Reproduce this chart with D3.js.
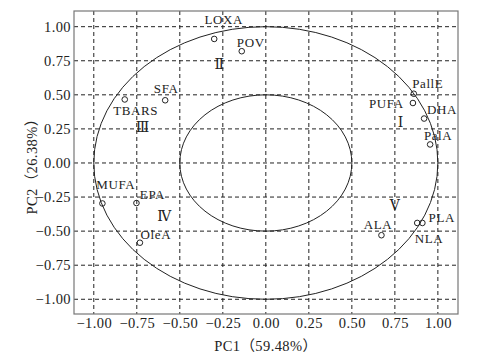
<!DOCTYPE html>
<html><head><meta charset="utf-8">
<script src="https://cdn.jsdelivr.net/npm/d3@7"></script>
<style>
body{margin:0;background:#fff;}
svg text{font-family:"Liberation Serif","Times New Roman",serif;fill:#222;}
</style></head>
<body><svg id="c" width="485" height="357"></svg>
<script>
const names = ["LOXA","POV","SFA","TBARS","PallE","PUFA","DHA","PalA","MUFA","EPA","OleA","ALA","PLA","NLA"];
const pc1 = [-0.30,-0.14,-0.585,-0.82,0.86,0.855,0.92,0.955,-0.95,-0.752,-0.732,0.672,0.91,0.88];
const pc2 = [0.91,0.82,0.46,0.466,0.508,0.44,0.326,0.136,-0.297,-0.294,-0.585,-0.53,-0.44,-0.44];
const groupNames = ["Ⅰ","Ⅱ","Ⅲ","Ⅳ","Ⅴ"];
const groupX = [0.783,-0.27,-0.717,-0.59,0.75];
const groupY = [0.299,0.729,0.262,-0.391,-0.306];
const tickVals = [-1.00,-0.75,-0.50,-0.25,0.00,0.25,0.50,0.75,1.00];
const radii = [1.0,0.5];
const xTitle = ["PC1","（","59.48%","）"];
const yTitle = ["PC2","（","26.38%","）"];

// label offsets (pixels) relative to points
const labelOffset = {
  LOXA:[9.5,-15], POV:[9,-4], SFA:[1,-7.5], TBARS:[11,15.5], PallE:[14,-6],
  PUFA:[-26.6,5], DHA:[18,-5], PalA:[8,-4], MUFA:[13.4,-14], EPA:[16,-4],
  OleA:[16,-4], ALA:[-3.4,-6], PLA:[19.4,-1], NLA:[11.7,20]
};

const svg = d3.select("#c");
const L=74,R=458,T=11,B=314;
const x = d3.scaleLinear().domain([-1.115,1.117]).range([L,R]);
const y = d3.scaleLinear().domain([-1.108,1.115]).range([B,T]);
const fmt = v => (v<0?"\u2212":"") + Math.abs(v).toFixed(2);

// grid
const g = svg.append("g");
g.selectAll("line.vx").data(tickVals).join("line")
  .attr("x1",d=>x(d)).attr("x2",d=>x(d)).attr("y1",T).attr("y2",B)
  .attr("stroke","#222").attr("stroke-width",1).attr("stroke-dasharray","4,3");
g.selectAll("line.hy").data(tickVals).join("line")
  .attr("y1",d=>y(d)).attr("y2",d=>y(d)).attr("x1",L).attr("x2",R)
  .attr("stroke","#222").attr("stroke-width",1).attr("stroke-dasharray","4,3");

// circles
svg.selectAll("ellipse.r").data(radii).join("ellipse")
  .attr("cx",x(0)).attr("cy",y(0))
  .attr("rx",d=>x(d)-x(0)).attr("ry",d=>y(0)-y(d))
  .attr("fill","none").attr("stroke","#222").attr("stroke-width",1);

// frame
svg.append("rect").attr("x",L).attr("y",T).attr("width",R-L).attr("height",B-T)
  .attr("fill","none").attr("stroke","#777").attr("stroke-width",1.2);

// axes
const xAxis = d3.axisBottom(x).tickValues(tickVals).tickFormat(fmt).tickSize(0).tickPadding(4);
const xa = svg.append("g").attr("transform",`translate(0,${B})`).call(xAxis);
xa.select(".domain").remove();
xa.selectAll("text").attr("font-size",14.5).attr("letter-spacing",0.4).style("font-family","Liberation Serif").attr("fill","#222");
const yAxis = d3.axisLeft(y).tickValues(tickVals).tickFormat(fmt).tickSize(0).tickPadding(3);
const ya = svg.append("g").attr("transform",`translate(${L},0)`).call(yAxis);
ya.select(".domain").remove();
ya.selectAll("text").attr("font-size",14.5).attr("letter-spacing",0.4).style("font-family","Liberation Serif").attr("fill","#222");

function title(sel, parts){
  sel.selectAll("tspan").data(parts).join("tspan")
    .style("font-family",(d,i)=> (i%2===1) ? '"Noto Sans CJK SC",serif' : '"Liberation Serif",serif')
    .text(d=>d);
}
// titles
svg.append("text").attr("x",x(0)).attr("y",351).attr("text-anchor","middle")
  .attr("font-size",14.5).attr("letter-spacing",0.4).call(title,xTitle);
svg.append("text").attr("transform",`translate(37,${y(0)}) rotate(-90)`)
  .attr("text-anchor","middle").attr("font-size",14.5).attr("letter-spacing",0.4).call(title,yTitle);

// points
const pts = names.map((n,i)=>({n, a:pc1[i], b:pc2[i]}));
svg.selectAll("circle.p").data(pts).join("circle")
  .attr("cx",d=>x(d.a)).attr("cy",d=>y(d.b)).attr("r",2.8)
  .attr("fill","none").attr("stroke","#222").attr("stroke-width",1);
svg.selectAll("text.lbl").data(pts).join("text")
  .attr("x",d=>x(d.a)+labelOffset[d.n][0]).attr("y",d=>y(d.b)+labelOffset[d.n][1])
  .attr("text-anchor","middle").attr("font-size",13).attr("letter-spacing",0.6).text(d=>d.n);

// groups
const grp = groupNames.map((n,i)=>({n,a:groupX[i],b:groupY[i]}));
svg.selectAll("text.grp").data(grp).join("text")
  .attr("x",d=>x(d.a)).attr("y",d=>y(d.b)).attr("dy","0.35em")
  .attr("text-anchor","middle").attr("font-size",14)
  .style("font-family",'"Liberation Serif","DejaVu Serif",serif').text(d=>d.n);
</script></body></html>
